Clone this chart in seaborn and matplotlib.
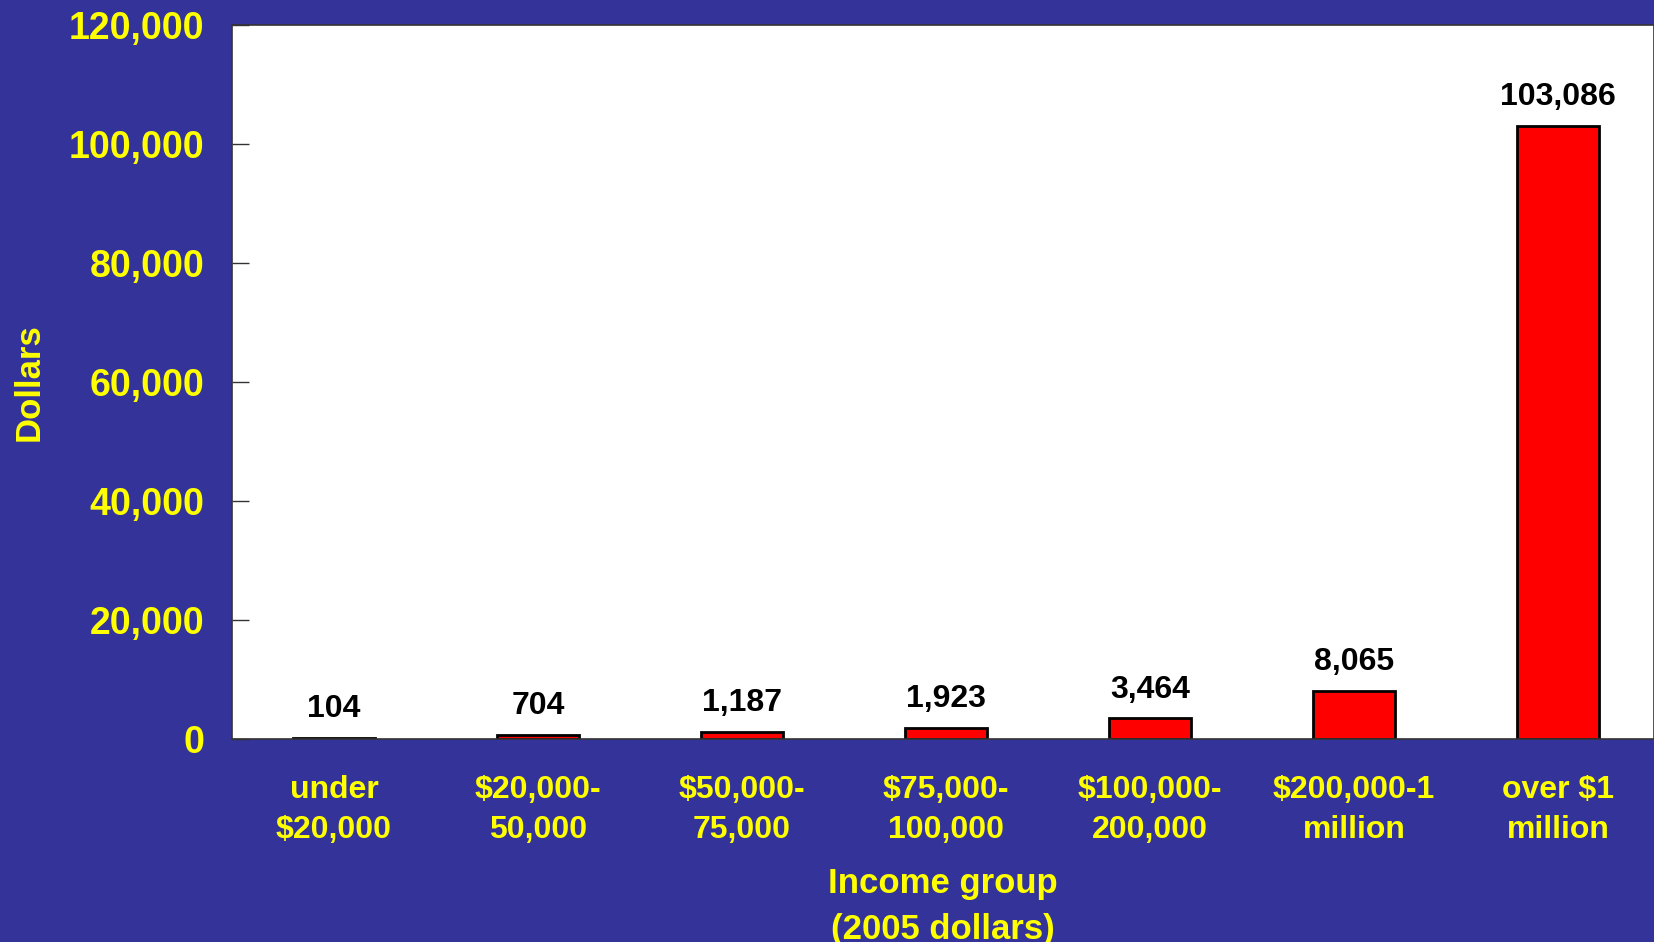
import matplotlib
matplotlib.use("Agg")
import matplotlib.pyplot as plt
import seaborn as sns
import pandas as pd

categories = ["under\n$20,000", "$20,000-\n50,000", "$50,000-\n75,000", "$75,000-\n100,000",
              "$100,000-\n200,000", "$200,000-1\nmillion", "over $1\nmillion"]
values = [104, 704, 1187, 1923, 3464, 8065, 103086]
yticks = [0, 20000, 40000, 60000, 80000, 100000, 120000]

df = pd.DataFrame({"group": categories, "dollars": values})

sns.set_theme(style="white")
plt.rcParams['font.family'] = ['Liberation Sans', 'DejaVu Sans']
plt.rcParams['font.weight'] = 'bold'

BG = "#333399"
YEL = "#FFFF00"

fig = plt.figure(figsize=(16.54, 9.42), dpi=100, facecolor=BG)
ax = fig.add_axes([232/1654, 1 - 739/942, (1654-232)/1654, (739-25)/942])
ax.set_facecolor("white")

sns.barplot(data=df, x="group", y="dollars", color="#FF0000", edgecolor="black",
            linewidth=2, width=0.4, saturation=1, ax=ax)

ax.set_ylim(0, 120000)
ax.set_xlim(-0.5, 6.47)
ax.set_yticks(yticks)
ax.set_yticklabels([f"{v:,}" for v in yticks], color=YEL, fontsize=27, fontweight='bold')
ax.tick_params(axis='y', direction='in', length=12, width=1, color='#333333', pad=20, left=True)
ax.tick_params(axis='x', length=0, pad=26)
for lab in ax.get_xticklabels():
    lab.set_color(YEL)
    lab.set_fontsize(23)
    lab.set_fontweight('bold')
    lab.set_linespacing(1.45)

for i, v in enumerate(values):
    ax.annotate(f"{v:,}", xy=(i, v), xytext=(0, 10), textcoords='offset points',
                ha='center', va='bottom', fontsize=23, fontweight='bold', color='black')

for s in ax.spines.values():
    s.set_color('#333333')
    s.set_linewidth(1.2)

ax.set_xlabel("Income group\n(2005 dollars)", color=YEL, fontsize=25, fontweight='bold',
              labelpad=15.5, linespacing=1.5)
ax.set_ylabel("Dollars", color=YEL, fontsize=25, fontweight='bold')
ax.yaxis.set_label_coords((46 - 232) / 1422, 0.5)

fig.savefig("out.png", dpi=100, facecolor=BG)
